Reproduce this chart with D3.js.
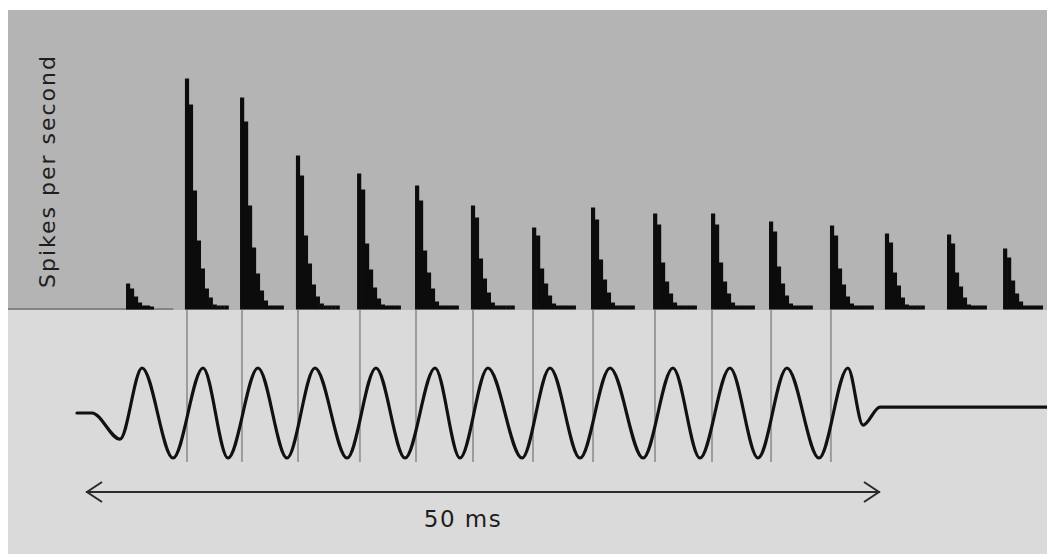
<!DOCTYPE html>
<html>
<head>
<meta charset="utf-8">
<script src="https://cdn.jsdelivr.net/npm/d3@7"></script>
<style>
  html, body { margin: 0; padding: 0; background: #ffffff; }
  svg { display: block; }
</style>
</head>
<body>
<div id="chart"></div>
<script>
// ---------------- DATA ----------------
const yLabel = "Spikes per second";
const scaleLabel = "50 ms";
const scaleBar = [0, 50];              // ms, the double arrow
const binWidth = 0.25;                 // ms per histogram bin

// onset (ms) of each burst of the post-stimulus time histogram
const burstOnsets = [2.52, 6.23, 9.70, 13.22, 17.07, 20.72, 24.24, 28.09,
                     31.80, 35.71, 39.36, 43.01, 46.85, 50.31, 54.22, 57.75];
// bin heights (spikes per second, arbitrary units) of each burst
const burstBins = [
  [26, 21, 13, 7, 4, 4, 3],
  [231, 205, 119, 69, 41, 21, 12, 5, 4, 4, 4],
  [212, 188, 104, 62, 36, 19, 9, 4, 4, 4, 4],
  [154, 134, 74, 46, 25, 13, 6, 4, 4, 4, 4],
  [136, 120, 66, 40, 22, 11, 5, 4, 4, 4, 4],
  [124, 109, 59, 37, 21, 8, 4, 4, 4, 4, 4],
  [104, 92, 51, 31, 17, 7, 4, 4, 4, 4, 4],
  [82, 74, 41, 26, 14, 6, 4, 4, 4, 4, 4],
  [102, 90, 50, 30, 17, 7, 4, 4, 4, 4, 4],
  [96, 85, 47, 28, 16, 7, 4, 4, 4, 4, 4],
  [96, 85, 47, 28, 16, 7, 4, 4, 4, 4, 4],
  [88, 78, 43, 26, 14, 6, 4, 4, 4, 4, 4],
  [84, 74, 41, 25, 13, 6, 4, 4, 4, 4, 4],
  [76, 67, 37, 24, 12, 5, 4, 4, 4, 4],
  [75, 66, 37, 23, 12, 5, 4, 4, 4, 4],
  [61, 52, 29, 16, 8, 4, 4, 4, 4, 4]
];
// spontaneous-activity baseline span (ms)
const baselineSpan = [-4.9, 5.5];

// phase markers (ms) linking the stimulus cycles to the bursts
const phaseLines = [6.36, 9.82, 13.35, 17.25, 20.78, 24.37, 28.15, 31.93,
                    35.83, 39.42, 43.14, 46.91];

// stimulus waveform: extrema (ms, normalised amplitude)
const stimTimes = [-0.57, 0.38, 2.14, 3.53, 5.48, 7.37, 8.94, 10.83, 12.66, 14.42,
                   16.44, 18.26, 20.09, 21.98, 23.55, 25.31, 27.46, 29.22, 31.11,
                   33.00, 35.08, 36.96, 38.66, 40.55, 42.32, 44.14, 46.16, 47.98,
                   48.93, 50.00, 60.50];
const stimAmps  = [0, 0, -0.58, 1, -1, 1, -1, 1, -1, 1,
                   -1, 1, -1, 1, -1, 1, -1, 1, -1,
                   1, -1, 1, -1, 1, -1, 1, -1, 1,
                   -0.27, 0.13, 0.13];

// ---------------- LAYOUT ----------------
const W = 1047, H = 554;
const padLeft = 8, padTop = 10, splitY = 310;

const svg = d3.select("#chart").append("svg")
  .attr("width", W).attr("height", H);

// panels
svg.append("rect").attr("x", padLeft).attr("y", padTop)
  .attr("width", W - padLeft).attr("height", splitY - padTop).attr("fill", "#b4b4b4");
svg.append("rect").attr("x", padLeft).attr("y", splitY)
  .attr("width", W - padLeft).attr("height", H - splitY).attr("fill", "#dadada");

// scales
const x = d3.scaleLinear().domain([0, 50]).range([86, 880]);
const yHist = d3.scaleLinear().domain([0, 300]).range([309.5, 9.5]);
const yStim = d3.scaleLinear().domain([-1, 1]).range([458, 368]);

// baseline of the histogram
svg.append("line")
  .attr("x1", x(baselineSpan[0])).attr("x2", x(baselineSpan[1]))
  .attr("y1", yHist(0) - 0.5).attr("y2", yHist(0) - 0.5)
  .attr("stroke", "#555").attr("stroke-width", 1.2);

// histogram bars
const bins = [];
burstOnsets.forEach((t0, b) => {
  burstBins[b].forEach((v, i) => bins.push({ t: t0 + i * binWidth, v }));
});
const bw = x(binWidth) - x(0);
svg.append("g").selectAll("rect").data(bins).join("rect")
  .attr("x", d => x(d.t))
  .attr("width", bw + 0.2)
  .attr("y", d => yHist(d.v))
  .attr("height", d => yHist(0) - yHist(d.v))
  .attr("fill", "#0c0c0c");

// phase lines
svg.append("g").selectAll("line").data(phaseLines).join("line")
  .attr("x1", d => x(d)).attr("x2", d => x(d))
  .attr("y1", splitY).attr("y2", yStim(-1) + 4)
  .attr("stroke", "#9c9c9c").attr("stroke-width", 2);

// stimulus waveform
const stim = stimTimes.map((t, i) => [t, stimAmps[i]]);
svg.append("path")
  .datum(stim)
  .attr("d", d3.line().x(d => x(d[0])).y(d => yStim(d[1])).curve(d3.curveMonotoneX))
  .attr("fill", "none").attr("stroke", "#111").attr("stroke-width", 3.2)
  .attr("stroke-linejoin", "round").attr("stroke-linecap", "round");

// scale bar arrow
const ay = 492;
const g = svg.append("g").attr("stroke", "#2a2a2a").attr("fill", "none");
g.append("line").attr("x1", x(scaleBar[0])).attr("x2", x(scaleBar[1]))
  .attr("y1", ay).attr("y2", ay).attr("stroke-width", 2);
g.append("path")
  .attr("d", `M${x(scaleBar[0]) + 16},${ay - 10} L${x(scaleBar[0]) + 1},${ay} L${x(scaleBar[0]) + 16},${ay + 10}`)
  .attr("stroke-width", 2);
g.append("path")
  .attr("d", `M${x(scaleBar[1]) - 16},${ay - 10} L${x(scaleBar[1]) - 1},${ay} L${x(scaleBar[1]) - 16},${ay + 10}`)
  .attr("stroke-width", 2);

svg.append("text")
  .attr("x", (x(scaleBar[0]) + x(scaleBar[1])) / 2 - 20)
  .attr("y", 527)
  .attr("text-anchor", "middle")
  .attr("font-family", "DejaVu Sans, sans-serif")
  .attr("font-size", 23)
  .attr("letter-spacing", 1.5)
  .attr("fill", "#1e1e1e")
  .text(scaleLabel);

// y label
svg.append("text")
  .attr("transform", "translate(55,171) rotate(-90)")
  .attr("text-anchor", "middle")
  .attr("font-family", "DejaVu Sans, sans-serif")
  .attr("font-size", 22)
  .attr("letter-spacing", 2)
  .attr("fill", "#1e1e1e")
  .text(yLabel);
</script>
</body>
</html>
